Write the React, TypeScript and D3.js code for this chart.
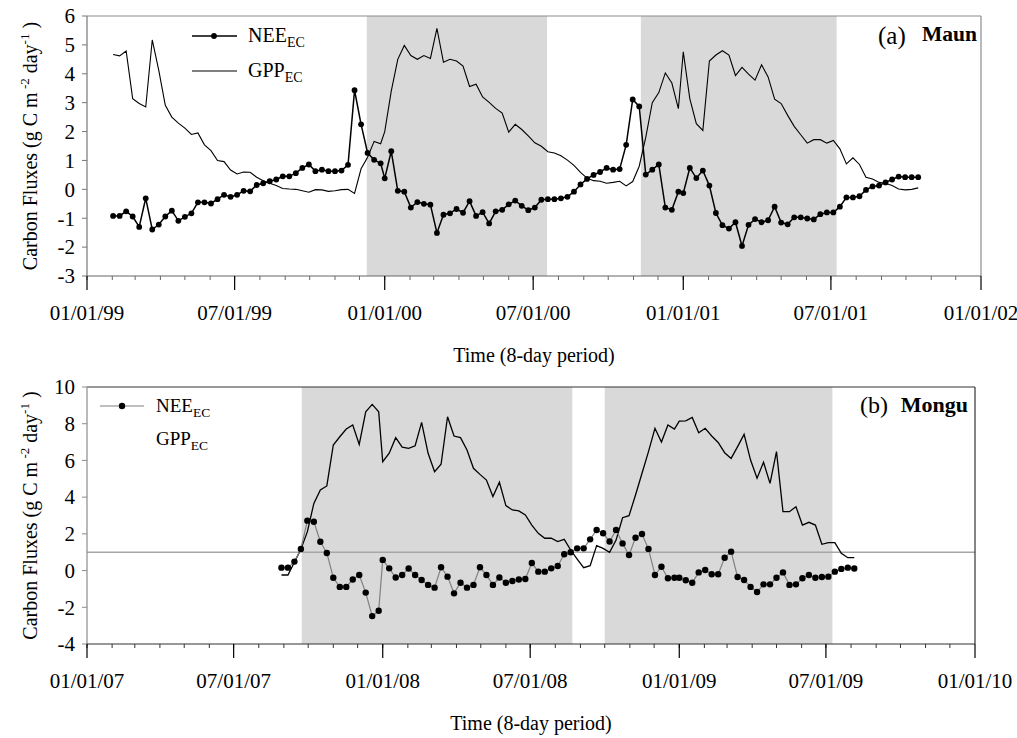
import React from 'react';
import * as d3 from 'd3';

// ---------- DATA ----------
// Panel (a) Maun: 8-day periods (46 per year, DOY 1, 9, 17, ...), first period 1999 DOY 33
const maunStartYear = 1999;
const maunStartPeriod = 4;
const maunNEE = [
  -0.92, -0.92, -0.76, -0.94, -1.30, -0.31, -1.39, -1.22, -0.94, -0.74,
  -1.09, -0.95, -0.83, -0.45, -0.45, -0.49, -0.34, -0.19, -0.26, -0.19,
  -0.05, -0.07, 0.15, 0.21, 0.28, 0.34, 0.45, 0.45, 0.56, 0.74,
  0.86, 0.63, 0.68, 0.63, 0.63, 0.65, 0.85, 3.43, 2.25, 1.26,
  1.02, 0.90,
  0.38, 1.32, -0.05, -0.08, -0.63, -0.44, -0.50, -0.53, -1.51, -0.88,
  -0.83, -0.68, -0.81, -0.41, -0.92, -0.79, -1.18, -0.76, -0.71, -0.52,
  -0.39, -0.57, -0.72, -0.63, -0.36, -0.34, -0.34, -0.31, -0.26, -0.08,
  0.17, 0.36, 0.50, 0.60, 0.74, 0.68, 0.70, 1.54, 3.11, 2.87,
  0.51, 0.68, 0.86, -0.63, -0.71, -0.08,
  -0.13, 0.74, 0.39, 0.65, 0.13, -0.82, -1.24, -1.36, -1.14, -1.96,
  -1.23, -1.03, -1.14, -1.07, -0.60, -1.15, -1.21, -0.97, -0.97, -1.01,
  -1.04, -0.86, -0.80, -0.80, -0.60, -0.28, -0.28, -0.24, -0.02, 0.10,
  0.13, 0.24, 0.34, 0.44, 0.42, 0.42, 0.42,
];
const maunGPP = [
  4.67, 4.62, 4.79, 3.14, 2.97, 2.85, 5.17, 4.12, 2.91, 2.50,
  2.29, 2.12, 1.90, 1.95, 1.54, 1.34, 1.00, 0.96, 0.67, 0.53,
  0.60, 0.59, 0.42, 0.30, 0.21, 0.13, 0.03, 0.01, 0.00, -0.05,
  -0.10, -0.01, -0.02, -0.07, -0.05, -0.01, 0.00, -0.14, 0.71, 1.11,
  1.66, 1.58,
  2.0, 3.4, 4.5, 4.98, 4.63, 4.5, 4.63, 4.53, 5.57, 4.4,
  4.5, 4.44, 4.27, 3.56, 3.64, 3.2, 3.01, 2.8, 2.64, 1.98,
  2.25, 2.07, 1.85, 1.61, 1.49, 1.30, 1.26, 1.16, 1.01, 0.83,
  0.59, 0.39, 0.30, 0.28, 0.21, 0.24, 0.28, 0.12, 0.27, 0.8,
  1.8, 3.0, 3.35, 4.03, 3.68, 2.79,
  4.76, 3.14, 2.27, 2.04, 4.44, 4.65, 4.80, 4.65, 3.94, 4.22,
  3.99, 3.78, 4.31, 3.89, 3.12, 2.97, 2.56, 2.18, 1.89, 1.60,
  1.72, 1.72, 1.60, 1.69, 1.40, 0.88, 1.09, 0.86, 0.42, 0.36,
  0.24, 0.21, 0.13, 0.01, -0.02, 0.00, 0.05,
];
const maunShading = [
  ['1999-12-10', '2000-07-18'],
  ['2000-11-10', '2001-07-08'],
];
const maunXTicks = ['1999-01-01', '1999-07-01', '2000-01-01', '2000-07-01', '2001-01-01', '2001-07-01', '2002-01-01'];
const maunYTicks = [-3, -2, -1, 0, 1, 2, 3, 4, 5, 6];

// Panel (b) Mongu: first period 2007 DOY 241
const monguStartYear = 2007;
const monguStartPeriod = 30;
const monguNEE = [
  0.16, 0.16, 0.49, 1.18, 2.72, 2.66, 1.57, 0.96, -0.39, -0.89,
  -0.89, -0.49, -0.24, -1.20, -2.48, -2.19,
  0.58, 0.12, -0.38, -0.24, 0.11, -0.24, -0.51, -0.78, -0.93, 0.18,
  -0.33, -1.24, -0.66, -0.93, -0.78, 0.18, -0.24, -0.78, -0.38, -0.66,
  -0.57, -0.49, -0.46, 0.41, -0.06, -0.06, 0.12, 0.25, 0.89, 1.0,
  1.21, 1.21, 1.70, 2.21, 2.03, 1.58, 2.21, 1.48, 0.85, 1.79,
  1.99, 1.18, -0.24, 0.21, -0.42, -0.39,
  -0.39, -0.53, -0.66, -0.10, 0.03, -0.20, -0.20, 0.70, 1.03, -0.35,
  -0.51, -0.89, -1.17, -0.75, -0.75, -0.39, -0.10, -0.78, -0.75, -0.42,
  -0.24, -0.39, -0.35, -0.33, -0.06, 0.09, 0.16, 0.11,
];
const monguGPP = [
  -0.24, -0.24, 0.45, 1.16, 2.12, 3.66, 4.39, 4.61, 6.84, 7.29,
  7.71, 7.93, 6.87, 8.65, 9.05, 8.65,
  5.93, 6.39, 7.24, 6.72, 6.66, 6.80, 8.07, 6.39, 5.39, 5.79,
  8.38, 7.33, 7.24, 6.57, 5.57, 5.24, 4.93, 4.03, 4.81, 3.54,
  3.30, 3.25, 3.03, 2.48, 2.03, 1.76, 1.76, 1.58, 1.70, 1.12,
  0.63, 0.16, 0.27, 1.36, 1.21, 0.99, 1.66, 2.88, 2.99, 4.12,
  5.30, 6.48, 7.75, 7.0, 7.93, 7.71,
  8.14, 8.16, 8.34, 7.51, 7.75, 7.33, 6.98, 6.42, 6.11, 6.75,
  7.42, 6.02, 5.03, 5.90, 4.75, 6.48, 3.21, 3.21, 3.48, 2.48,
  2.63, 2.48, 1.43, 1.52, 1.52, 0.94, 0.70, 0.70,
];
const monguShading = [
  ['2007-09-23', '2008-08-22'],
  ['2008-10-01', '2009-07-09'],
];
const monguXTicks = ['2007-01-01', '2007-07-01', '2008-01-01', '2008-07-01', '2009-01-01', '2009-07-01', '2010-01-01'];
const monguYTicks = [-4, -2, 0, 2, 4, 6, 8, 10];
const monguRefLine = 1;

// ---------- HELPERS ----------
const FONT = '"Liberation Serif", "Times New Roman", Times, serif';
const parse = d3.timeParse('%Y-%m-%d');
const fmt = d3.timeFormat('%m/%d/%y');

function periodDate(startYear: number, startPeriod: number, i: number): Date {
  const p = startPeriod + i;
  const y = startYear + Math.floor(p / 46);
  const doy = 1 + 8 * (p % 46);
  return new Date(y, 0, doy);
}

type PanelProps = {
  left: number; right: number; top: number; bottom: number;
  xTicks: string[]; yTicks: number[];
  startYear: number; startPeriod: number;
  nee: number[]; gpp: number[];
  shading: string[][];
  refLine?: number;
  variant: 'a' | 'b';
};

function Panel(p: PanelProps) {
  const xt = p.xTicks.map((s) => parse(s) as Date);
  const x = d3.scaleTime().domain([xt[0], xt[xt.length - 1]]).range([p.left, p.right]);
  const y = d3.scaleLinear().domain([p.yTicks[0], p.yTicks[p.yTicks.length - 1]]).range([p.bottom, p.top]);
  const minor = d3.timeMonth.range(xt[0], xt[xt.length - 1]);
  const neePts = p.nee.map((v, i) => ({ d: periodDate(p.startYear, p.startPeriod, i), v }));
  const gppPts = p.gpp.map((v, i) => ({ d: periodDate(p.startYear, p.startPeriod, i), v }));
  const line = d3.line<{ d: Date; v: number }>().x((q) => x(q.d)).y((q) => y(q.v));
  const isA = p.variant === 'a';
  const frameColor = isA ? '#8c8c8c' : '#333';
  const axisColor = isA ? '#666' : '#333';
  const leftAxisColor = isA ? '#777' : '#8c8c8c';
  const neeStroke = isA ? '#000' : '#808080';
  const r = isA ? 2.9 : 3.2;
  const cy = (p.top + p.bottom) / 2;
  const cx = (p.left + p.right) / 2;
  return (
    <g>
      {p.shading.map((s, i) => {
        const x0 = x(parse(s[0]) as Date);
        const x1 = x(parse(s[1]) as Date);
        return <rect key={i} x={x0} y={p.top} width={x1 - x0} height={p.bottom - p.top} fill="#d9d9d9" />;
      })}
      {p.refLine !== undefined && (
        <line x1={p.left} x2={p.right} y1={y(p.refLine)} y2={y(p.refLine)} stroke="#a6a6a6" strokeWidth={1.5} />
      )}
      {/* frame */}
      <line x1={p.left} x2={p.right} y1={p.top} y2={p.top} stroke={frameColor} strokeWidth={1.2} />
      <line x1={p.right} x2={p.right} y1={p.top} y2={p.bottom} stroke={frameColor} strokeWidth={1.2} />
      {/* y axis */}
      <line x1={p.left} x2={p.left} y1={p.top} y2={p.bottom} stroke={leftAxisColor} strokeWidth={1.2} />
      {p.yTicks.map((t) => (
        <g key={t}>
          <line x1={p.left - 5} x2={p.left} y1={y(t)} y2={y(t)} stroke={leftAxisColor} strokeWidth={1} />
          <text x={75} y={y(t)} dy="0.35em" textAnchor="end" fontSize={21} fontFamily={FONT} fill="#000">{t}</text>
        </g>
      ))}
      {/* x axis */}
      <line x1={p.left} x2={p.right} y1={p.bottom} y2={p.bottom} stroke={axisColor} strokeWidth={1.2} />
      {minor.map((d, i) => (
        <line key={'m' + i} x1={x(d)} x2={x(d)} y1={p.bottom} y2={p.bottom + 4} stroke={axisColor} strokeWidth={1} />
      ))}
      {xt.map((d, i) => (
        <g key={'M' + i}>
          <line x1={x(d)} x2={x(d)} y1={p.bottom} y2={p.bottom + 14} stroke="#000" strokeWidth={1.2} />
          <text x={x(d)} y={p.bottom + 44} textAnchor="middle" fontSize={21} fontFamily={FONT} fill="#000">{fmt(d)}</text>
        </g>
      ))}
      {/* axis titles */}
      <text x={cx} y={p.bottom + 86} textAnchor="middle" fontSize={20} fontFamily={FONT} fill="#000">Time (8-day period)</text>
      <text transform={`translate(37,${cy}) rotate(-90)`} textAnchor="middle" fontSize={20} fontFamily={FONT} fill="#000">
        Carbon Fluxes (g C m<tspan dy={-8} fontSize={13}> -2</tspan><tspan dy={8}> day</tspan><tspan dy={-8} fontSize={13}>-1</tspan><tspan dy={8}> )</tspan>
      </text>
      {/* series */}
      <path d={line(gppPts) || ''} fill="none" stroke="#000" strokeWidth={isA ? 1.1 : 1.3} />
      <path d={line(neePts) || ''} fill="none" stroke={neeStroke} strokeWidth={isA ? 1.5 : 1.2} />
      {neePts.map((q, i) => (
        <circle key={i} cx={x(q.d)} cy={y(q.v)} r={r} fill="#000" />
      ))}
      {/* legend */}
      {isA ? (
        <g fontFamily={FONT} fill="#000">
          <line x1={192} x2={237} y1={36} y2={36} stroke="#000" strokeWidth={1.5} />
          <circle cx={214} cy={36} r={2.9} fill="#000" />
          <text x={248} y={42} fontSize={20}>NEE<tspan dy={5} fontSize={14}>EC</tspan></text>
          <line x1={192} x2={237} y1={71} y2={71} stroke="#000" strokeWidth={1.1} />
          <text x={248} y={77} fontSize={20}>GPP<tspan dy={5} fontSize={14}>EC</tspan></text>
          <text x={878} y={44} fontSize={25}>(a)</text>
          <text x={977} y={41} fontSize={21.5} fontWeight="bold" textAnchor="end">Maun</text>
        </g>
      ) : (
        <g fontFamily={FONT} fill="#000">
          <line x1={100} x2={144} y1={406} y2={406} stroke="#808080" strokeWidth={1.2} />
          <circle cx={122} cy={406} r={3.2} fill="#000" />
          <text x={156} y={412} fontSize={19}>NEE<tspan dy={5} fontSize={13.5}>EC</tspan></text>
          <text x={156} y={445} fontSize={19}>GPP<tspan dy={5} fontSize={13.5}>EC</tspan></text>
          <text x={860} y={413} fontSize={24}>(b)</text>
          <text x={968} y={412} fontSize={22} fontWeight="bold" textAnchor="end">Mongu</text>
        </g>
      )}
    </g>
  );
}

export default function App() {
  return (
    <svg width={1017} height={738} style={{ position: 'absolute', left: 0, top: 0, background: '#fff' }}>
      <rect x={0} y={0} width={1017} height={738} fill="#fff" />
      <Panel
        left={87} right={981} top={16} bottom={276}
        xTicks={maunXTicks} yTicks={maunYTicks}
        startYear={maunStartYear} startPeriod={maunStartPeriod}
        nee={maunNEE} gpp={maunGPP} shading={maunShading}
        variant="a"
      />
      <Panel
        left={87} right={975} top={387} bottom={644}
        xTicks={monguXTicks} yTicks={monguYTicks}
        startYear={monguStartYear} startPeriod={monguStartPeriod}
        nee={monguNEE} gpp={monguGPP} shading={monguShading}
        refLine={monguRefLine}
        variant="b"
      />
    </svg>
  );
}
